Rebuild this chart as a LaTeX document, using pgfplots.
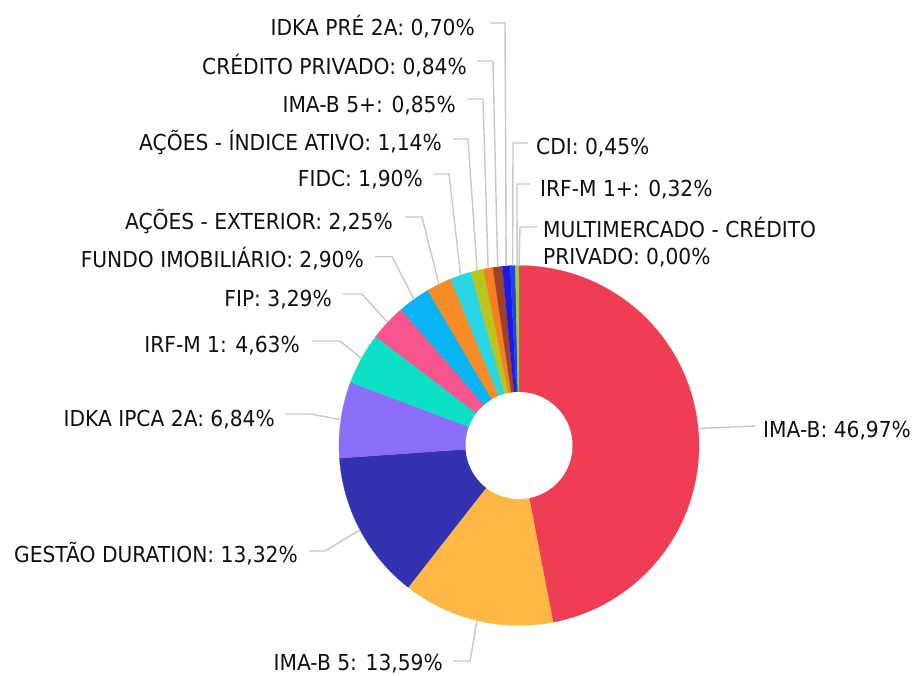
\documentclass[border=0pt]{standalone}
\usepackage{pgfplots}
\pgfplotsset{compat=1.18}
\usepackage{fontspec}
\setmainfont{DejaVu Sans}[FakeStretch=0.92]
\definecolor{cA}{HTML}{EF3D54}
\definecolor{cB}{HTML}{FFB845}
\definecolor{cC}{HTML}{3333B2}
\definecolor{cD}{HTML}{8A6EF8}
\definecolor{cE}{HTML}{0BE0C4}
\definecolor{cF}{HTML}{F6558E}
\definecolor{cG}{HTML}{0AB4F2}
\definecolor{cH}{HTML}{F58C27}
\definecolor{cI}{HTML}{2AD6E4}
\definecolor{cJ}{HTML}{B9C51B}
\definecolor{cK}{HTML}{F67F20}
\definecolor{cL}{HTML}{9E412E}
\definecolor{cM}{HTML}{1B1BE8}
\definecolor{cN}{HTML}{2A40E0}
\definecolor{cO}{HTML}{9BCB3B}
\definecolor{ldr}{HTML}{C8C8C8}
\definecolor{txt}{HTML}{111111}
% slice: cumulative start %, cumulative end %, colour
\newcommand{\slice}[3]{\addplot[fill=#3,draw=#3,line width=0.2pt,domain={90-3.6*#2}:{90-3.6*#1},samples=80] ({519+180*cos(x)},{445.5-180*sin(x)}) -- (axis cs:519,445.5) -- cycle;}
\newcommand{\lblL}[3]{\node[anchor=base east,inner sep=0pt,text=txt] at (axis cs:#1,#2) {#3};}
\newcommand{\lblR}[3]{\node[anchor=base west,inner sep=0pt,text=txt] at (axis cs:#1,#2) {#3};}
\begin{document}
\begin{tikzpicture}[font=\fontsize{22}{26.5}\selectfont]
\begin{axis}[scale only axis, width=913pt, height=675pt,
  xmin=0, xmax=913, ymin=0, ymax=675, y dir=reverse,
  hide axis, clip=false,
  leader/.style={color=ldr, line width=1.4pt}]
% values (%): 46.97, 13.59, 13.32, 6.84, 4.63, 3.29, 2.90, 2.25, 1.90, 1.14, 0.85, 0.84, 0.70, 0.45, 0.32, 0.00
\slice{0}{46.97}{cA}
\slice{46.97}{60.56}{cB}
\slice{60.56}{73.88}{cC}
\slice{73.88}{80.72}{cD}
\slice{80.72}{85.35}{cE}
\slice{85.35}{88.64}{cF}
\slice{88.64}{91.54}{cG}
\slice{91.54}{93.79}{cH}
\slice{93.79}{95.69}{cI}
\slice{95.69}{96.83}{cJ}
\slice{96.83}{97.68}{cK}
\slice{97.68}{98.52}{cL}
\slice{98.52}{99.22}{cM}
\slice{99.22}{99.67}{cN}
\slice{99.67}{99.99}{cO}
\addplot[fill=white, draw=none, domain=0:360, samples=120] ({519+53.5*cos(x)},{445.5-53.5*sin(x)}) -- cycle;
% leader lines
\addplot[leader] coordinates {(699,428.4) (755,426)};
\addplot[leader] coordinates {(477,620.5) (470,661) (453,661)};
\addplot[leader] coordinates {(360,530) (325,551) (309,551)};
\addplot[leader] coordinates {(341,419.6) (310,414) (285,414)};
\addplot[leader] coordinates {(361.4,358.4) (340,341) (312,341)};
\addplot[leader] coordinates {(387.7,322.4) (362,294) (343,294)};
\addplot[leader] coordinates {(414,299.3) (392,256.7) (375,256.7)};
\addplot[leader] coordinates {(439,284.3) (422,217) (405,217)};
\addplot[leader] coordinates {(460.6,275.2) (449,174) (433,174)};
\addplot[leader] coordinates {(477.1,270.4) (468,139) (453,139)};
\addplot[leader] coordinates {(488.1,268.2) (483,99) (467,99)};
\addplot[leader] coordinates {(497.6,266.8) (493,61) (477,61)};
\addplot[leader] coordinates {(506.2,266) (505,23) (490,23)};
\addplot[leader] coordinates {(512.7,265.6) (513,143) (528,143)};
\addplot[leader] coordinates {(517.1,265.5) (517,184) (530,184)};
\addplot[leader] coordinates {(519,265.5) (520,227) (537,227)};
% labels
\lblR{763}{437}{IMA-B: 46,97\%}
\lblL{443}{670}{IMA-B 5: 13,59\%}
\lblL{298}{562}{GESTÃO DURATION: 13,32\%}
\lblL{275}{426}{IDKA IPCA 2A: 6,84\%}
\lblL{300}{352}{IRF-M 1: 4,63\%}
\lblL{332}{306}{FIP: 3,29\%}
\lblL{364}{267.5}{FUNDO IMOBILIÁRIO: 2,90\%}
\lblL{393}{229}{AÇÕES - EXTERIOR: 2,25\%}
\lblL{423}{186}{FIDC: 1,90\%}
\lblL{442}{150}{AÇÕES - ÍNDICE ATIVO: 1,14\%}
\lblL{456}{112}{IMA-B 5+: 0,85\%}
\lblL{467}{74}{CRÉDITO PRIVADO: 0,84\%}
\lblL{475}{35.5}{IDKA PRÉ 2A: 0,70\%}
\lblR{536}{154}{CDI: 0,45\%}
\lblR{540}{196}{IRF-M 1+: 0,32\%}
\lblR{543}{237.5}{MULTIMERCADO - CRÉDITO}
\lblR{543}{264}{PRIVADO: 0,00\%}
\end{axis}
\pgfresetboundingbox
\path (current axis.south west) rectangle (current axis.north east);
\end{tikzpicture}
\end{document}
